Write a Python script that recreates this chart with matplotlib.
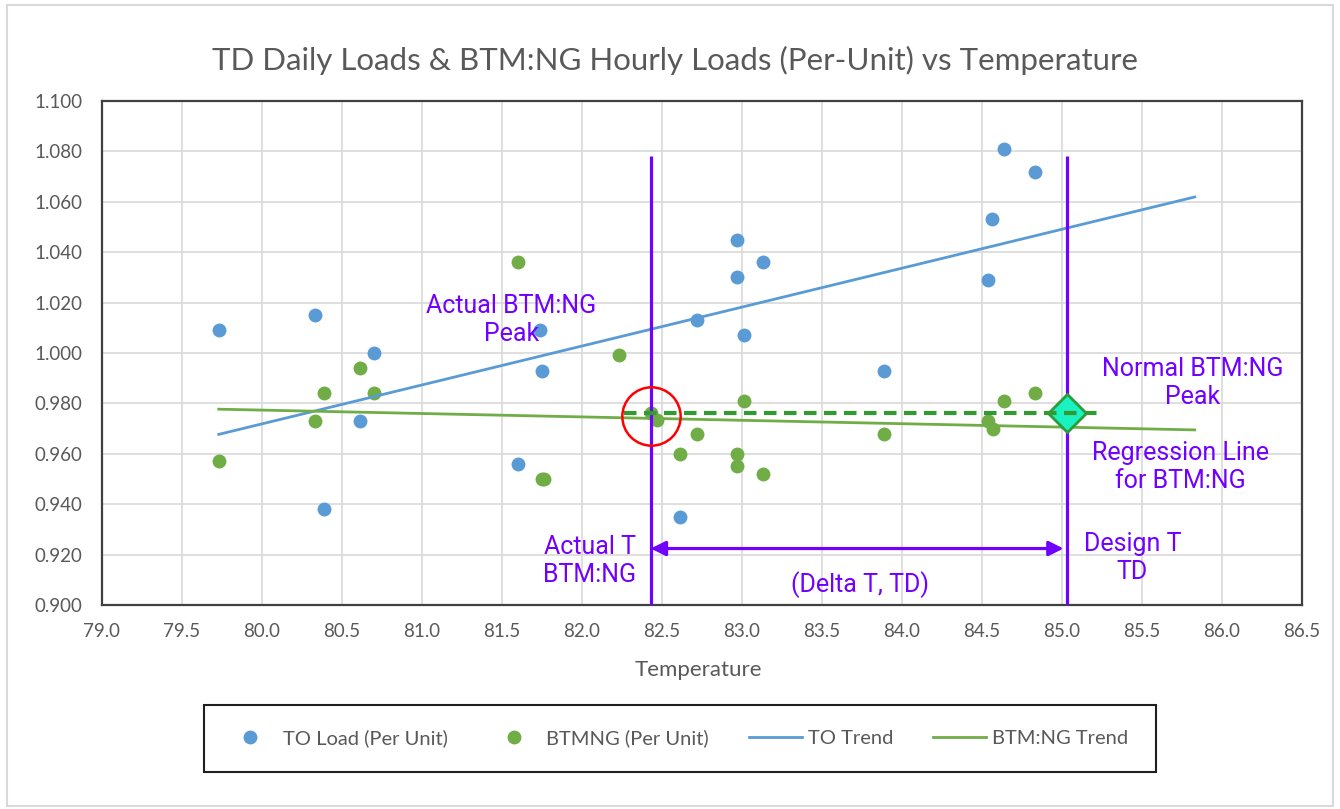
import numpy as np
import matplotlib.pyplot as plt
from matplotlib.patches import Rectangle

# TO daily loads (per unit) vs temperature
to_temp = [79.73, 80.33, 80.70, 80.61, 80.39, 81.74, 81.75, 81.60, 82.97, 83.13,
           82.97, 82.72, 83.01, 83.89, 82.61, 84.64, 84.83, 84.56, 84.54]
to_load = [1.009, 1.015, 1.000, 0.973, 0.938, 1.009, 0.993, 0.956, 1.045, 1.036,
           1.030, 1.013, 1.007, 0.993, 0.935, 1.081, 1.072, 1.053, 1.029]

# BTM:NG hourly loads (per unit) vs temperature
ng_temp = [81.60, 80.61, 80.39, 80.70, 80.33, 79.73, 81.75, 81.76, 82.23, 82.43,
           82.47, 83.01, 82.72, 82.61, 82.97, 82.97, 83.13, 83.89, 84.83, 84.64,
           84.54, 84.57]
ng_load = [1.036, 0.994, 0.984, 0.984, 0.973, 0.957, 0.950, 0.950, 0.999, 0.976,
           0.9735, 0.981, 0.968, 0.960, 0.960, 0.955, 0.952, 0.968, 0.984, 0.981,
           0.973, 0.970]

# annotation values
actual_t = 82.43
design_t = 85.03
actual_peak = 0.9748
normal_peak = 0.9760
vline_top = 1.078
delta_y = 0.9224
peak_span = [82.26, 85.24]

xticks = np.arange(79.0, 86.51, 0.5)
yticks = np.arange(0.90, 1.1001, 0.02)

blue = '#5B9BD5'
green = '#70AD47'
purple = '#7000FF'
gray = '#595959'

plt.rcParams['font.family'] = ['Lato', 'DejaVu Sans']

fig = plt.figure(figsize=(13.4, 8.09), dpi=100)
ax = fig.add_axes([0.0761, 0.2522, 0.8955, 0.6230])

# Excel style trendlines, forecast one degree forward
def trend(x, y):
    x = np.asarray(x)
    k, b = np.polyfit(x, y, 1)
    xs = np.array([x.min(), x.max() + 1.0])
    return xs, k * xs + b

tx, ty = trend(to_temp, to_load)
gx, gy = trend(ng_temp, ng_load)

ax.plot(to_temp, to_load, 'o', color=blue, markersize=10, mew=0, label='TO Load (Per Unit)', zorder=3)
ax.plot(ng_temp, ng_load, 'o', color=green, markersize=10, mew=0, label='BTMNG (Per Unit)', zorder=3)
ax.plot(tx, ty, '-', color=blue, lw=2, label='TO Trend', zorder=3)
ax.plot(gx, gy, '-', color=green, lw=2, label='BTM:NG Trend', zorder=3)

# annotation marks
ax.vlines([actual_t, design_t], 0.9, vline_top, color=purple, lw=2.3, zorder=4)
ax.plot(design_t, normal_peak, 'D', markersize=19, markerfacecolor='#1AF2C2',
        markeredgecolor='#2A9D3A', mew=2, zorder=5)
ax.plot(peak_span, [normal_peak, normal_peak], color='#339933', lw=3,
        dashes=(3, 1.8), zorder=6)
ax.plot(actual_t, actual_peak, 'o', markersize=42, markerfacecolor='none',
        markeredgecolor='#FF0000', mew=1.8, zorder=7)
ax.annotate('', xy=(actual_t, delta_y), xytext=(design_t - 0.02, delta_y),
            arrowprops=dict(arrowstyle='<|-|>', color=purple, lw=2.3,
                            mutation_scale=22, shrinkA=0, shrinkB=0), zorder=5)

tkw = dict(color=purple, fontsize=18, family=['Roboto', 'DejaVu Sans'],
           ha='center', va='center', linespacing=1.2, zorder=8)
ax.text(81.56, 1.013, 'Actual BTM:NG\nPeak', **tkw)
ax.text(85.816, 0.988, 'Normal BTM:NG\nPeak', **tkw)
ax.text(85.74, 0.9546, 'Regression Line\nfor BTM:NG', **tkw)
ax.text(85.44, 0.9186, 'Design T\nTD', **tkw)
ax.text(82.05, 0.9173, 'Actual T\nBTM:NG', **tkw)
ax.text(83.74, 0.9079, '(Delta T, TD)', **tkw)

ax.set_xlim(79.0, 86.5)
ax.set_ylim(0.9, 1.1)
ax.set_xticks(xticks)
ax.set_yticks(yticks)
ax.set_xticklabels(['%.1f' % v for v in xticks])
ax.set_yticklabels(['%.3f' % v for v in yticks])
ax.tick_params(length=0, labelsize=13.5, labelcolor=gray)
ax.tick_params(axis='x', pad=13)
ax.tick_params(axis='y', pad=14)
ax.grid(True, color='#D9D9D9', lw=1.2)
ax.set_axisbelow(True)
for s in ax.spines.values():
    s.set_color('#404040')
    s.set_linewidth(1.6)

fig.text(0.5037, 0.9258, 'TD Daily Loads & BTM:NG Hourly Loads (Per-Unit) vs Temperature',
         ha='center', va='center', fontsize=22.5, color=gray)
fig.text(698 / 1340, 1 - 670 / 809, 'Temperature', ha='center', va='center',
         fontsize=16, color=gray)

# legend box and entries
fig.patches.append(Rectangle((204 / 1340, 1 - 772 / 809), 952 / 1340, 67 / 809,
                             transform=fig.transFigure, fill=False,
                             edgecolor='#202020', lw=1.5))
fig.legend(loc='center', bbox_to_anchor=(676 / 1340, 1 - 738.5 / 809), ncol=4,
           frameon=False, fontsize=14.5, handlelength=2.6, handletextpad=0.3,
           columnspacing=2.0, labelcolor=gray)

# outer chart frame
fig.patches.append(Rectangle((7 / 1340, 1 - 806 / 809), 1326 / 1340, 801 / 809,
                             transform=fig.transFigure, fill=False,
                             edgecolor='#D9D9D9', lw=1.5))

fig.savefig('out.png', dpi=100)
